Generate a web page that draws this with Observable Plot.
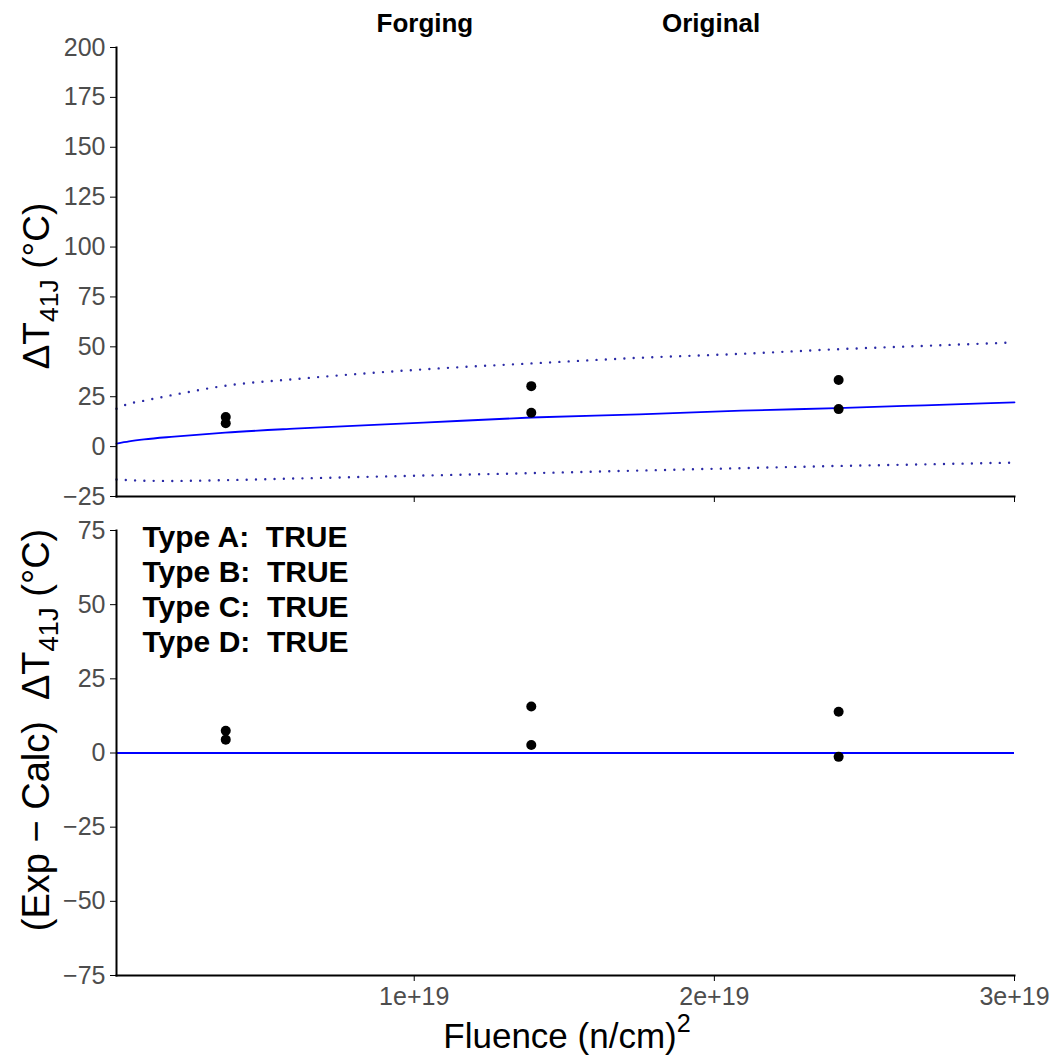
<!DOCTYPE html>
<html>
<head>
<meta charset="utf-8">
<script src="https://cdn.jsdelivr.net/npm/d3@7"></script>
<script src="https://cdn.jsdelivr.net/npm/@observablehq/plot@0.6"></script>
<style>
  body { margin: 0; background: #fff; }
  #chart { position: relative; width: 1056px; height: 1063px; }
  #chart svg { position: absolute; left: 0; overflow: visible; }
  #chart .title { position: absolute; top: 8px; font: bold 26px "Liberation Sans", Arial, sans-serif; color: #000; }
</style>
</head>
<body>
<div id="chart"></div>
<script>
// Measured shifts (°C) at three fluence levels
const fluence  = [3.72e18, 3.72e18, 1.39e19, 1.39e19, 2.414e19, 2.414e19];
const deltaT   = [14.8, 11.7, 30.3, 17.0, 33.4, 18.8];
const residual = [7.5, 4.5, 15.7, 2.7, 13.9, -1.3];

// Model prediction with its upper / lower bounds
const fitFluence = [8e16, 5e17, 1e18, 2e18, 3.7e18, 6e18, 1.03e19, 1.39e19, 1.75e19, 2.09e19, 2.41e19, 2.7e19, 3e19];
const fitMean    = [1.5, 2.6, 3.6, 5.0, 7.0, 9.0, 12.0, 14.6, 16.2, 18.0, 19.3, 20.7, 22.2];
const fitUpper   = [19.0, 21.5, 23.0, 26.0, 30.5, 33.8, 38.7, 41.7, 44.5, 46.5, 48.8, 50.5, 52.2];
const fitLower   = [-16.5, -16.8, -17.1, -17.2, -16.8, -16.0, -14.5, -13.3, -12.0, -10.8, -9.7, -8.9, -8.0];

const facetTitles = ["Forging", "Original"];
const typeLabels = ["Type A:  TRUE", "Type B:  TRUE", "Type C:  TRUE", "Type D:  TRUE"];
const xTicks = [1e19, 2e19, 3e19];
const yTicksTop = d3.range(-25, 201, 25);
const yTicksBottom = d3.range(-75, 76, 25);

const FONT = '"Liberation Sans", Arial, sans-serif';
const obs = fluence.map((f, i) => ({f, dT: deltaT[i], res: residual[i]}));
const fit = fitFluence.map((f, i) => ({f, mean: fitMean[i], upper: fitUpper[i], lower: fitLower[i]}));
const minus = d => String(d).replace("-", "\u2212");

const W = 1056;
const common = {
  width: W,
  marginLeft: 116,
  marginRight: 42,
  style: {fontFamily: FONT, fontSize: "25px", background: "transparent", overflow: "visible"},
  x: {domain: [8e16, 3e19]}
};
// round-capped zero-length dashes give a line of dots
const dotted = {stroke: "#2a2aa6", strokeWidth: 2.4, strokeDasharray: "0 9.3", strokeLinecap: "round", curve: "monotone-x"};

const topPlot = Plot.plot({
  ...common,
  height: 510,
  marginTop: 47,
  marginBottom: 14,
  y: {domain: [-25, 200]},
  marks: [
    Plot.axisY(yTicksTop, {tickSize: 6, tickPadding: 5, stroke: "black", fill: "#4d4d4d", fontSize: 25, tickFormat: minus, label: null}),
    Plot.axisX(xTicks, {tickSize: 6, stroke: "black", tickFormat: () => "", label: null}),
    Plot.line(fit, {x: "f", y: "upper", ...dotted}),
    Plot.line(fit, {x: "f", y: "lower", ...dotted}),
    Plot.line(fit, {x: "f", y: "mean", stroke: "#0000ff", strokeWidth: 1.8, curve: "monotone-x"}),
    Plot.dot(obs, {x: "f", y: "dT", r: 5, fill: "black"}),
    Plot.frame({anchor: "left", stroke: "black", strokeWidth: 2}),
    Plot.frame({anchor: "bottom", stroke: "black", strokeWidth: 2})
  ]
});

const bottomPlot = Plot.plot({
  ...common,
  height: 553,
  marginTop: 20,
  marginBottom: 88,
  y: {domain: [-75, 75]},
  marks: [
    Plot.axisY(yTicksBottom, {tickSize: 6, tickPadding: 5, stroke: "black", fill: "#4d4d4d", fontSize: 25, tickFormat: minus, label: null}),
    Plot.axisX(xTicks, {tickSize: 6, tickPadding: 6, stroke: "black", fill: "#4d4d4d", fontSize: 25, tickFormat: d3.format(".0e"), label: null}),
    Plot.ruleY([0], {stroke: "#0000ff", strokeWidth: 2.2}),
    Plot.dot(obs, {x: "f", y: "res", r: 5, fill: "black"}),
    Plot.text([typeLabels.join("\n")], {frameAnchor: "top-left", dx: 26, dy: -8, lineAnchor: "top", textAnchor: "start", lineHeight: 1.167, fontSize: 30, fontWeight: "bold", fill: "black"}),
    Plot.frame({anchor: "left", stroke: "black", strokeWidth: 2}),
    Plot.frame({anchor: "bottom", stroke: "black", strokeWidth: 2})
  ]
});

const chart = document.getElementById("chart");
topPlot.style.top = "0px";
bottomPlot.style.top = "510px";
chart.append(topPlot, bottomPlot);

// Facet titles above the top panel
const titleX = [425, 711];
facetTitles.forEach((t, i) => {
  const d = document.createElement("div");
  d.className = "title";
  d.textContent = t;
  chart.append(d);
  d.style.left = (titleX[i] - d.offsetWidth / 2) + "px";
});

// Axis titles with sub/superscripts
function richText(svg, parts, {x, y, rotate = 0, size, fill = "#000"}) {
  const t = d3.select(svg).append("text")
    .attr("transform", `translate(${x},${y}) rotate(${rotate})`)
    .attr("text-anchor", "middle")
    .attr("font-family", FONT)
    .attr("font-size", size)
    .attr("fill", fill)
    .style("white-space", "pre");
  let shift = 0;
  for (const p of parts) {
    const want = p.sub ? 0.24 * size : p.sup ? -0.45 * size : 0;
    const ts = t.append("tspan").text(p.text).attr("dy", want - shift);
    if (p.sub || p.sup) ts.attr("font-size", size * 0.72);
    shift = want;
  }
}
const yTitle = [{text: "\u0394T"}, {text: "41J", sub: true}, {text: " (\u00b0C)"}];
richText(topPlot, yTitle, {x: 49, y: 286, rotate: -90, size: 37});
richText(bottomPlot, [{text: "(Exp \u2212 Calc)  "}, ...yTitle], {x: 49, y: 220, rotate: -90, size: 38});
richText(bottomPlot, [{text: "Fluence (n/cm)"}, {text: "2", sup: true}], {x: 567, y: 538, size: 35});
</script>
</body>
</html>
